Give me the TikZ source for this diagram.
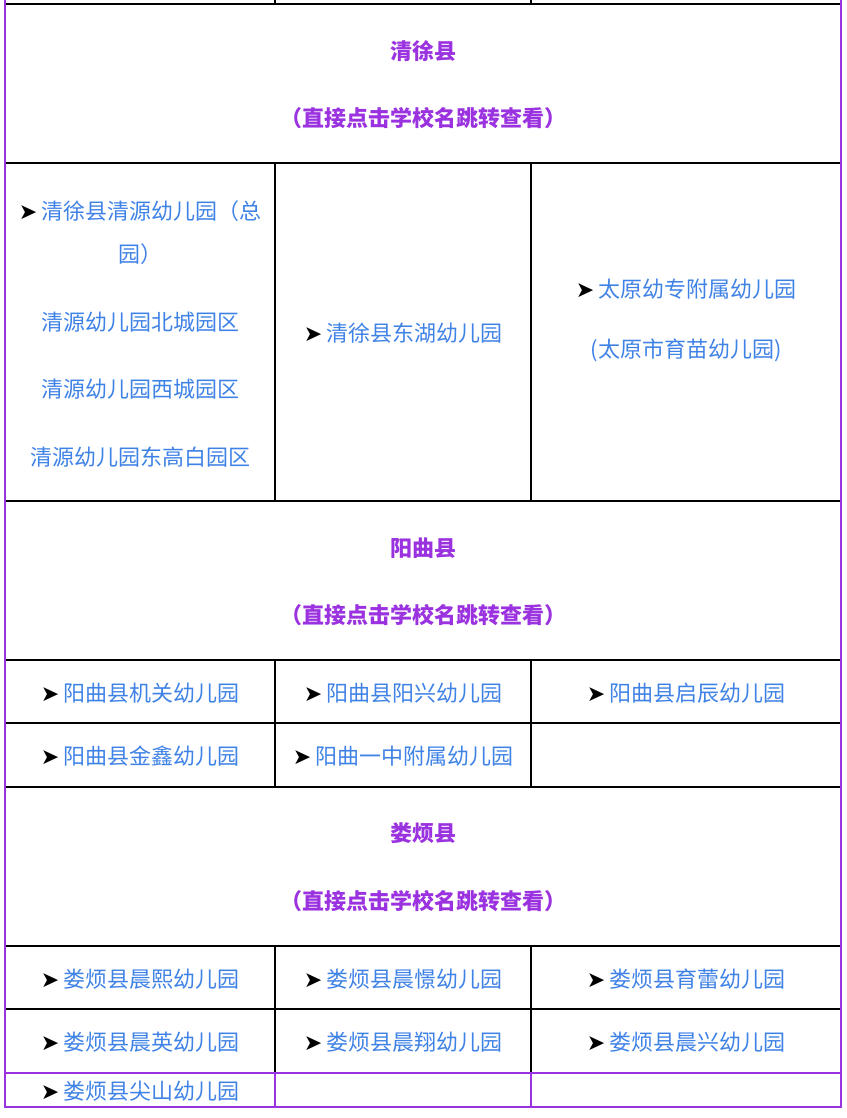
\documentclass[tikz,border=0pt]{standalone}
\usepackage{fontspec}
\newfontfamily\cjk{Noto Sans CJK SC}
\newfontfamily\arrowfont{DejaVu Sans}
\usetikzlibrary{positioning}
\definecolor{linkblue}{HTML}{3F82E6}
\definecolor{headpurple}{HTML}{9B32DF}
\newcommand{\arrowmk}{{\color{black}\arrowfont\fontsize{22}{24}\selectfont ➤}\hspace{4pt}}

\begin{document}
\begin{tikzpicture}[
		x=1pt, y=-1pt,
		every node/.style={font=\cjk\fontsize{22}{26}\selectfont, inner sep=0pt},
		school/.style={text=linkblue},
		county/.style={text=headpurple, font=\cjk\bfseries\fontsize{22}{26}\selectfont},
		grid/.style={line width=1.6pt, black},
		frame/.style={line width=2.4pt, headpurple}
		]
		\useasboundingbox (0,0) rectangle (846,1118);
		% horizontal rules
		\foreach \y in {4,163,501,660,723,787,946,1009,1073}
			\draw[grid] (5,\y) -- (841,\y);
		% column rules
		\foreach \a/\b in {0/4,163/501,660/787,946/1073}{
			\draw[grid] (275,\a) -- (275,\b);
			\draw[grid] (531,\a) -- (531,\b);
		}
		\draw[frame, line width=1.4pt] (275,1073) -- (275,1107);
		\draw[frame, line width=1.4pt] (531,1073) -- (531,1107);
		\draw[frame, line width=1.4pt] (5,1073) -- (841,1073);
		\draw[frame] (5,0) -- (5,1107) -- (841,1107) -- (841,0);

		% 清徐县
		\node[county] (qx) at (423,51) {清徐县};
		\node[county] (qxsub) at (423,118) {（直接点击学校名跳转查看）};
		\node[school] (qy1) at (140,211) {\arrowmk 清徐县清源幼儿园（总};
		\node[school] (qy2) at (140,254) {园）};
		\node[school] (qy3) at (140,322) {清源幼儿园北城园区};
		\node[school] (qy4) at (140,389) {清源幼儿园西城园区};
		\node[school] (qy5) at (140,457) {清源幼儿园东高白园区};
		\node[school] (dh) at (403,333) {\arrowmk 清徐县东湖幼儿园};
		\node[school] (ty1) at (686,289) {\arrowmk 太原幼专附属幼儿园};
		\node[school] (ty2) at (686,350) {(太原市育苗幼儿园)};

		% 阳曲县
		\node[county] (yq) at (423,548) {阳曲县};
		\node[county] (yqsub) at (423,615) {（直接点击学校名跳转查看）};
		\node[school] (jg) at (140,693) {\arrowmk 阳曲县机关幼儿园};
		\node[school] (yx) at (403,693) {\arrowmk 阳曲县阳兴幼儿园};
		\node[school] (qc) at (686,693) {\arrowmk 阳曲县启辰幼儿园};
		\node[school] (jx) at (140,756) {\arrowmk 阳曲县金鑫幼儿园};
		\node[school] (yz) at (403,756) {\arrowmk 阳曲一中附属幼儿园};

		% 娄烦县
		\node[county] (lf) at (423,833) {娄烦县};
		\node[county] (lfsub) at (423,901) {（直接点击学校名跳转查看）};
		\node[school] (cxi) at (140,979) {\arrowmk 娄烦县晨熙幼儿园};
		\node[school] (cj) at (403,979) {\arrowmk 娄烦县晨憬幼儿园};
		\node[school] (yl) at (686,979) {\arrowmk 娄烦县育蕾幼儿园};
		\node[school] (cy) at (140,1042) {\arrowmk 娄烦县晨英幼儿园};
		\node[school] (cxiang) at (403,1042) {\arrowmk 娄烦县晨翔幼儿园};
		\node[school] (cxing) at (686,1042) {\arrowmk 娄烦县晨兴幼儿园};
		\node[school] (js) at (140,1091) {\arrowmk 娄烦县尖山幼儿园};
	\end{tikzpicture}
\end{document}
